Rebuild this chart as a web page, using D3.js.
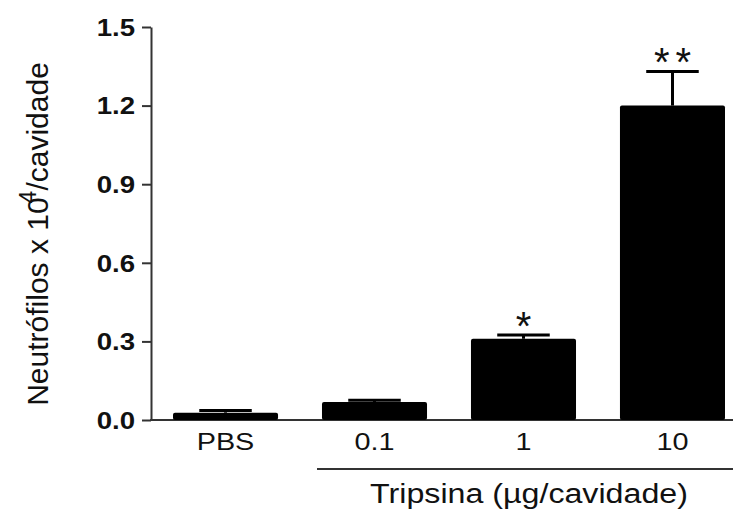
<!DOCTYPE html>
<html>
<head>
<meta charset="utf-8">
<script src="https://cdn.jsdelivr.net/npm/d3@7"></script>
<style>
  html, body { margin: 0; padding: 0; background: #fff; }
  svg { display: block; }
  text { font-family: Arial, "Liberation Sans", Helvetica, sans-serif; fill: #111; }
</style>
</head>
<body>
<svg id="chart" width="734" height="513"></svg>
<script>
// Neutrophil counts per cavity after PBS or trypsin injection
const categories = ["PBS", "0.1", "1", "10"];
const means      = [0.028, 0.069, 0.31, 1.20];
const errors     = [0.008, 0.006, 0.014, 0.13];
const marks      = ["", "", "*", "**"];
const yTicks     = [0.0, 0.3, 0.6, 0.9, 1.2, 1.5];

const svg = d3.select("#chart");
const stretch = 1.2;   // horizontal glyph stretch used for the labels

const y = d3.scaleLinear().domain([0, 1.5]).range([420, 27]);
const x = d3.scaleBand().domain(categories).range([173, 725]).paddingInner(0.295).paddingOuter(0);

// y axis
const yAxis = svg.append("g")
  .attr("transform", "translate(151,0)")
  .call(d3.axisLeft(y).tickValues(yTicks).tickSize(9).tickSizeOuter(0).tickFormat(d3.format(".1f")));
yAxis.select(".domain").attr("stroke", "#333").attr("stroke-width", 2);
yAxis.selectAll(".tick line").attr("stroke", "#333").attr("stroke-width", 2);
yAxis.selectAll(".tick text")
  .attr("x", -16 / 1.2)
  .attr("dy", "0.36em")
  .attr("transform", "scale(1.2,1)")
  .style("font-size", "23px")
  .style("font-weight", "bold")
  .style("font-family", "Arial, 'Liberation Sans', sans-serif")
  .attr("fill", "#111");

// x axis baseline
svg.append("line")
  .attr("x1", 150).attr("x2", 733)
  .attr("y1", y(0)).attr("y2", y(0))
  .attr("stroke", "#333").attr("stroke-width", 2);

// bars
svg.append("g").selectAll("rect")
  .data(categories)
  .join("rect")
  .attr("x", d => x(d))
  .attr("width", x.bandwidth())
  .attr("y", (d, i) => y(means[i]))
  .attr("height", (d, i) => y(0) - y(means[i]))
  .attr("rx", 2)
  .attr("fill", "#000");

// error bars (upper only)
const capW = x.bandwidth() / 2;
const eb = svg.append("g").selectAll("g")
  .data(categories)
  .join("g");
eb.append("line")
  .attr("x1", d => x(d) + x.bandwidth() / 2)
  .attr("x2", d => x(d) + x.bandwidth() / 2)
  .attr("y1", (d, i) => y(means[i]))
  .attr("y2", (d, i) => y(means[i] + errors[i]))
  .attr("stroke", "#000").attr("stroke-width", 3);
eb.append("line")
  .attr("x1", d => x(d) + x.bandwidth() / 2 - capW / 2)
  .attr("x2", d => x(d) + x.bandwidth() / 2 + capW / 2)
  .attr("y1", (d, i) => y(means[i] + errors[i]))
  .attr("y2", (d, i) => y(means[i] + errors[i]))
  .attr("stroke", "#000").attr("stroke-width", 3);

// significance marks: one asterisk glyph per character, centred above the error bar
const starFs = 40, starGap = 21.6;
const starData = [];
categories.forEach((c, i) => {
  const chars = marks[i].split("");
  chars.forEach((ch, j) => starData.push({
    cx: x(c) + x.bandwidth() / 2 + (j - (chars.length - 1) / 2) * starGap,
    cy: y(means[i] + errors[i]) - 18,
    ch
  }));
});
svg.append("g").selectAll("text")
  .data(starData)
  .join("text")
  .attr("transform", d => `translate(${d.cx},${d.cy + 0.57 * starFs})`)
  .attr("text-anchor", "middle")
  .style("font-size", starFs + "px")
  .attr("fill", "#333")
  .text(d => d.ch);

// category labels
svg.append("g").selectAll("text")
  .data(categories)
  .join("text")
  .attr("transform", d => `translate(${x(d) + x.bandwidth() / 2},450) scale(${stretch},1)`)
  .attr("text-anchor", "middle")
  .style("font-size", "24px")
  .text(d => d);

// bracket under trypsin doses
svg.append("line")
  .attr("x1", 317).attr("x2", 733)
  .attr("y1", 469).attr("y2", 469)
  .attr("stroke", "#333").attr("stroke-width", 2);

svg.append("text")
  .attr("transform", `translate(529,503) scale(1.15,1)`)
  .attr("text-anchor", "middle")
  .style("font-size", "28px")
  .text("Tripsina (µg/cavidade)");

// y axis title
const yt = svg.append("text")
  .attr("transform", `translate(48,234) rotate(-90)`)
  .attr("text-anchor", "middle")
  .style("font-size", "30px");
yt.append("tspan").text("Neutrófilos x 10");
yt.append("tspan").attr("dx", -6).attr("dy", -12).style("font-size", "23px").text("4");
yt.append("tspan").attr("dy", 12).text("/cavidade");
</script>
</body>
</html>
